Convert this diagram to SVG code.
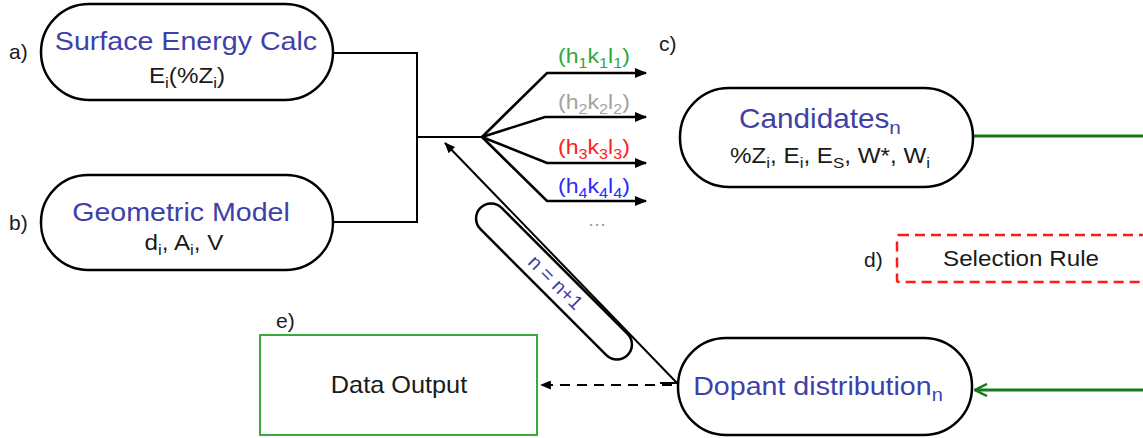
<svg xmlns="http://www.w3.org/2000/svg" width="1143" height="438" viewBox="0 0 1143 438">
  <style>
    text { font-family: "Liberation Sans", Arial, sans-serif; text-anchor: middle; }
    .title { font-size: 26px; fill: #3f3fa8; }
    .sub2 { font-size: 22px; fill: #1a1a1a; }
    .lbl { font-size: 21px; fill: #1a1a1a; text-anchor: start; }
    .plain { font-size: 22px; fill: #1a1a1a; }
    .hkl { font-size: 21px; }
    .s { font-size: 70%; }
    .pill { fill: #ffffff; stroke: #000000; stroke-width: 2.5; }
    .wire { fill: none; stroke: #000000; stroke-width: 2; }
    .fan { fill: none; stroke: #000000; stroke-width: 2.6; }
  </style>
  <defs>
    <marker id="tri" viewBox="0 0 12 10" refX="11" refY="5" markerWidth="12" markerHeight="10" markerUnits="userSpaceOnUse" orient="auto">
      <path d="M0,0 L12,5 L0,10 Z" fill="#000000"/>
    </marker>
    <marker id="triSmall" viewBox="0 0 12 10" refX="11" refY="5" markerWidth="11" markerHeight="9" markerUnits="userSpaceOnUse" orient="auto">
      <path d="M0,0 L12,5 L0,10 Z" fill="#000000"/>
    </marker>
    <marker id="openGreen" viewBox="0 0 14 14" refX="13" refY="7" markerWidth="14" markerHeight="14" markerUnits="userSpaceOnUse" orient="auto">
      <path d="M1,1 L13,7 L1,13" fill="none" stroke="#1a7a1a" stroke-width="2.5"/>
    </marker>
  </defs>

  <!-- connectors -->
  <g id="connectors">
    <path class="wire" d="M333,53 H417 V222 H333"/>
    <path class="wire" d="M417,137 H482"/>
    <path class="fan" d="M482,137 L547,73 H646" marker-end="url(#tri)"/>
    <path class="fan" d="M482,137 L545,117 H646" marker-end="url(#tri)"/>
    <path class="fan" d="M482,137 L547,163 H646" marker-end="url(#tri)"/>
    <path class="fan" d="M482,137 L547,201 H646" marker-end="url(#tri)"/>
    <path class="wire" d="M677,383 L445,143" marker-end="url(#triSmall)"/>
    <path class="wire" d="M660,383 H677"/>
    <path fill="none" stroke="#000" stroke-width="2" stroke-dasharray="10 7" d="M672,385 H541" marker-end="url(#triSmall)"/>
    <path fill="none" stroke="#1a7a1a" stroke-width="3" d="M973,136 H1143"/>
    <path fill="none" stroke="#1a7a1a" stroke-width="3" d="M1143,390 H975" marker-end="url(#openGreen)"/>
  </g>

  <!-- a) surface energy -->
  <g id="surface-energy">
    <rect class="pill" x="41" y="4" width="292" height="96" rx="48"/>
    <text class="lbl" x="9" y="59">a)</text>
    <text class="title" transform="translate(186 50) scale(1.1 1)">Surface Energy Calc</text>
    <text class="sub2" transform="translate(187 83) scale(1.1 1)">E<tspan class="s" dy="5">i</tspan><tspan dy="-5">(%Z</tspan><tspan class="s" dy="5">i</tspan><tspan dy="-5">)</tspan></text>
  </g>

  <!-- b) geometric model -->
  <g id="geometric-model">
    <rect class="pill" x="41" y="175" width="292" height="95" rx="47"/>
    <text class="lbl" x="9" y="230">b)</text>
    <text class="title" transform="translate(181 221) scale(1.1 1)">Geometric Model</text>
    <text class="sub2" transform="translate(184 250) scale(1.1 1)">d<tspan class="s" dy="5">i</tspan><tspan dy="-5">, A</tspan><tspan class="s" dy="5">i</tspan><tspan dy="-5">, V</tspan></text>
  </g>

  <!-- miller index branches -->
  <g id="facets">
    <text class="hkl" fill="#2ea83a" transform="translate(594 63) scale(1.1 1)">(h<tspan class="s" dy="5">1</tspan><tspan dy="-5">k</tspan><tspan class="s" dy="5">1</tspan><tspan dy="-5">l</tspan><tspan class="s" dy="5">1</tspan><tspan dy="-5">)</tspan></text>
    <text class="hkl" fill="#a3a3a3" transform="translate(594 109) scale(1.1 1)">(h<tspan class="s" dy="5">2</tspan><tspan dy="-5">k</tspan><tspan class="s" dy="5">2</tspan><tspan dy="-5">l</tspan><tspan class="s" dy="5">2</tspan><tspan dy="-5">)</tspan></text>
    <text class="hkl" fill="#ff2020" transform="translate(594 154) scale(1.1 1)">(h<tspan class="s" dy="5">3</tspan><tspan dy="-5">k</tspan><tspan class="s" dy="5">3</tspan><tspan dy="-5">l</tspan><tspan class="s" dy="5">3</tspan><tspan dy="-5">)</tspan></text>
    <text class="hkl" fill="#2a2aff" transform="translate(594 193) scale(1.1 1)">(h<tspan class="s" dy="5">4</tspan><tspan dy="-5">k</tspan><tspan class="s" dy="5">4</tspan><tspan dy="-5">l</tspan><tspan class="s" dy="5">4</tspan><tspan dy="-5">)</tspan></text>
    <text x="597" y="226" font-size="19" fill="#999999">…</text>
  </g>

  <!-- c) candidates -->
  <g id="candidates">
    <rect class="pill" x="680" y="88" width="293" height="99" rx="49"/>
    <text class="lbl" x="659" y="51">c)</text>
    <text class="title" transform="translate(820 128) scale(1.1 1)" style="font-size:27px">Candidates<tspan class="s" dy="6">n</tspan></text>
    <text class="sub2" transform="translate(830 163) scale(1.1 1)">%Z<tspan class="s" dy="5">i</tspan><tspan dy="-5">, E</tspan><tspan class="s" dy="5">i</tspan><tspan dy="-5">, E</tspan><tspan class="s" dy="5">S</tspan><tspan dy="-5">, W*, W</tspan><tspan class="s" dy="5">i</tspan></text>
  </g>

  <!-- d) selection rule -->
  <g id="selection-rule">
    <rect x="897" y="235" width="260" height="47" rx="2" fill="none" stroke="#ff1a1a" stroke-width="2.5" stroke-dasharray="10 6"/>
    <text class="lbl" x="864" y="267">d)</text>
    <text class="plain" transform="translate(1021 266) scale(1.1 1)">Selection Rule</text>
  </g>

  <!-- loop counter -->
  <g id="increment">
    <rect class="pill" stroke-width="2" x="-104" y="-15" width="208" height="30" rx="15" transform="translate(554 281.5) rotate(45)"/>
    <text font-size="20" fill="#3f3fa8" transform="translate(555 283) rotate(45)" dy="6">n = n+1</text>
  </g>

  <!-- e) data output -->
  <g id="data-output">
    <rect x="260" y="335" width="277" height="100" fill="#ffffff" stroke="#3aaa3a" stroke-width="2"/>
    <text class="lbl" x="276" y="328">e)</text>
    <text class="plain" transform="translate(399 393) scale(1.1 1)" style="font-size:23px">Data Output</text>
  </g>

  <!-- dopant distribution -->
  <g id="dopant-distribution">
    <rect class="pill" x="678" y="338" width="294" height="97" rx="48"/>
    <text class="title" transform="translate(818 395) scale(1.1 1)">Dopant distribution<tspan class="s" dy="6">n</tspan></text>
  </g>
</svg>
